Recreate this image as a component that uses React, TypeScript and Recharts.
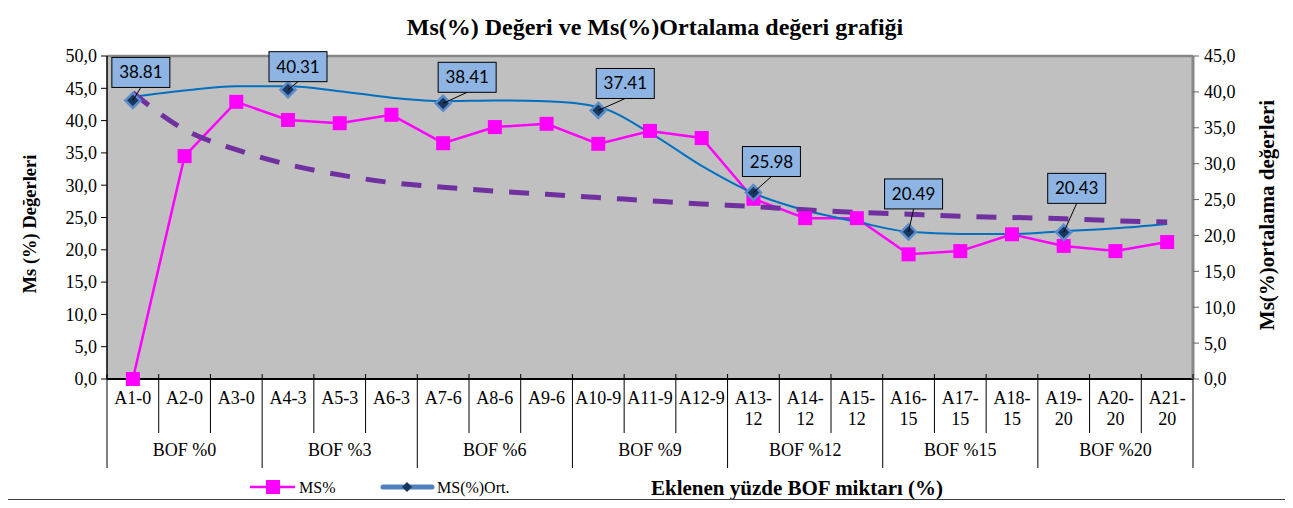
import React from 'react';
import {
  ComposedChart,
  Line,
  XAxis,
  YAxis,
  CartesianGrid,
  ReferenceLine,
  LabelList,
} from 'recharts';

const CATEGORIES = [
  'A1-0', 'A2-0', 'A3-0', 'A4-3', 'A5-3', 'A6-3', 'A7-6', 'A8-6', 'A9-6', 'A10-9', 'A11-9',
  'A12-9', 'A13-12', 'A14-12', 'A15-12', 'A16-15', 'A17-15', 'A18-15', 'A19-20', 'A20-20', 'A21-20',
];
const GROUPS = ['BOF %0', 'BOF %3', 'BOF %6', 'BOF %9', 'BOF %12', 'BOF %15', 'BOF %20'];

// MS% values (left axis)
const MS = [0, 34.5, 42.9, 40.1, 39.6, 40.9, 36.5, 39.0, 39.5, 36.4, 38.4, 37.3, 27.9, 24.9, 24.9, 19.3, 19.8, 22.4, 20.6, 19.8, 21.2];
// group averages (right axis), only on the first sample of each group
const MS_ORT = [38.81, null, null, 40.31, null, null, 38.41, null, null, 37.41, null, null, 25.98, null, null, 20.49, null, null, 20.43, null, null];
// smooth blue curve through the averages (right axis)
const ORT_CURVE = [39.3, 40.2, 40.8, 40.8, 40.1, 39.2, 38.7, 38.8, 38.7, 37.9, 34.3, 29.7, 25.9, 23.5, 21.9, 20.5, 20.2, 20.2, 20.6, 21.0, 21.6];
// purple dashed trend line (left axis)
const MS_TREND = [44.3, 38.6, 35.5, 33.2, 31.6, 30.4, 29.7, 29.1, 28.6, 28.1, 27.6, 27.1, 26.7, 26.2, 25.8, 25.5, 25.2, 25.0, 24.8, 24.5, 24.3];

const LEFT_TICKS = [0, 5, 10, 15, 20, 25, 30, 35, 40, 45, 50];
const RIGHT_TICKS = [0, 5, 10, 15, 20, 25, 30, 35, 40, 45];

// label box offsets from the diamond (box centre)
const LABEL_OFFSETS: Record<number, [number, number]> = {
  0: [8, -28], 3: [10, -23], 6: [24, -26], 9: [27, -27], 12: [18, -31], 15: [5, -38], 18: [13, -44],
};

const data = CATEGORIES.map((cat, i) => ({
  cat,
  ms: MS[i],
  ort: MS_ORT[i],
  curve: ORT_CURVE[i],
  trend: MS_TREND[i],
}));

const W = 1278;
const H = 491;
const PLOT_W = 1086;
const AXIS_Y = 371;
const BAND = PLOT_W / CATEGORIES.length;
const SERIF = '"Liberation Serif", "Times New Roman", serif';

const fmt = (v: number) => v.toFixed(1).replace('.', ',');

function CategoryTick(props: any) {
  const { x, index, payload } = props;
  const label = String(payload.value);
  const left = x - BAND / 2;
  const dash = label.indexOf('-');
  const lines = label.length > 5 ? [label.slice(0, dash + 1), label.slice(dash + 1)] : [label];
  const last = index === CATEGORIES.length - 1;
  return (
    <g>
      <line x1={left} x2={left} y1={AXIS_Y - 5} y2={index % 3 === 0 ? AXIS_Y + 89 : AXIS_Y + 54} stroke="#000" />
      {last && <line x1={left + BAND} x2={left + BAND} y1={AXIS_Y - 5} y2={AXIS_Y + 89} stroke="#000" />}
      {lines.map((t, k) => (
        <text key={k} x={x} y={AXIS_Y + 25 + k * 21} textAnchor="middle" fontSize={18} fontFamily={SERIF} fill="#000">
          {t}
        </text>
      ))}
      {index % 3 === 1 && (
        <text x={x} y={AXIS_Y + 77} textAnchor="middle" fontSize={18} fontFamily={SERIF} fill="#000">
          {GROUPS[(index - 1) / 3]}
        </text>
      )}
    </g>
  );
}

function SquareDot(props: any) {
  const { cx, cy } = props;
  if (cx == null || cy == null) return <g key={props.key} />;
  return <rect key={props.key} x={cx - 7} y={cy - 7} width={14} height={14} fill="#FF00FF" />;
}

function DiamondDot(props: any) {
  const { cx, cy, value } = props;
  if (value == null || cx == null || cy == null) return <g key={props.key} />;
  const r = 7.5;
  return (
    <path
      key={props.key}
      d={`M${cx},${cy - r} L${cx + r},${cy} L${cx},${cy + r} L${cx - r},${cy} Z`}
      fill="#17375E"
      stroke="#5B8BC9"
      strokeWidth={2.5}
    />
  );
}

function OrtLabel(props: any) {
  const { x, y, value, index } = props;
  if (value == null || x == null || y == null) return null;
  const [dx, dy] = LABEL_OFFSETS[index] || [10, -30];
  const bw = 58;
  const bh = 30;
  const bx = x + dx;
  const by = y + dy;
  return (
    <g>
      <line x1={x} y1={y} x2={bx} y2={by + bh / 2} stroke="#000" strokeWidth={1} />
      <rect x={bx - bw / 2} y={by - bh / 2} width={bw} height={bh} fill="#8DB4E2" stroke="#000" strokeWidth={1} />
      <text x={bx} y={by + 6} textAnchor="middle" fontSize={17} fontFamily="Lato, 'Open Sans', sans-serif" fill="#000">
        {Number(value).toFixed(2)}
      </text>
    </g>
  );
}

export default function App() {
  return (
    <div
      style={{
        position: 'relative',
        width: 1280,
        height: 493,
        marginLeft: -1,
        marginTop: -1,
        border: '1px solid #404040',
        boxSizing: 'border-box',
        background: '#fff',
      }}
    >
      <ComposedChart width={W} height={H} data={data} margin={{ top: 48, right: 0, bottom: 0, left: 0 }}>
        <CartesianGrid yAxisId="left" fill="#C0C0C0" horizontal={false} vertical={false} />
        <XAxis
          dataKey="cat"
          scale="band"
          interval={0}
          height={120}
          tickLine={false}
          axisLine={{ stroke: '#000', strokeWidth: 2 }}
          tick={<CategoryTick />}
        />
        <YAxis
          yAxisId="left"
          width={99}
          domain={[0, 50]}
          ticks={LEFT_TICKS}
          tickFormatter={fmt}
          tickSize={6}
          tickMargin={4}
          axisLine={{ stroke: '#000', strokeWidth: 1.5 }}
          tickLine={{ stroke: '#000' }}
          tick={{ fill: '#000', fontSize: 18, fontFamily: SERIF }}
        />
        <YAxis
          yAxisId="right"
          orientation="right"
          width={93}
          domain={[0, 45]}
          ticks={RIGHT_TICKS}
          tickFormatter={fmt}
          tickSize={6}
          tickMargin={5}
          axisLine={{ stroke: '#888', strokeWidth: 3 }}
          tickLine={{ stroke: '#666' }}
          tick={{ fill: '#000', fontSize: 18, fontFamily: SERIF, textAnchor: 'start' }}
        />
        <ReferenceLine yAxisId="left" y={50} stroke="#888" strokeWidth={2.5} />
        <Line
          yAxisId="left"
          dataKey="ms"
          type="linear"
          stroke="#FF00FF"
          strokeWidth={2.5}
          dot={SquareDot}
          isAnimationActive={false}
        />
        <Line
          yAxisId="right"
          dataKey="curve"
          type="monotone"
          stroke="#0070C0"
          strokeWidth={2}
          dot={false}
          isAnimationActive={false}
        />
        <Line
          yAxisId="right"
          dataKey="ort"
          stroke="none"
          connectNulls={false}
          dot={DiamondDot}
          isAnimationActive={false}
        />
        <Line
          yAxisId="left"
          dataKey="trend"
          type="monotone"
          stroke="#7030A0"
          strokeWidth={5}
          strokeDasharray="20 16"
          dot={false}
          isAnimationActive={false}
        />
        <Line
          yAxisId="right"
          dataKey="ort"
          stroke="none"
          dot={false}
          isAnimationActive={false}
        >
          <LabelList dataKey="ort" content={OrtLabel} />
        </Line>
      </ComposedChart>

      <svg
        width={W}
        height={H}
        style={{ position: 'absolute', left: 0, top: 0, pointerEvents: 'none' }}
      >
        <text x={647} y={27} textAnchor="middle" fontSize={24} fontWeight="bold" fontFamily={SERIF} fill="#000">
          Ms(%) Değeri ve Ms(%)Ortalama değeri grafiği
        </text>
        <text transform="translate(28,216) rotate(-90)" textAnchor="middle" fontSize={18.5} fontWeight="bold" fontFamily={SERIF} fill="#000">
          Ms (%) Değerleri
        </text>
        <text transform="translate(1266,207) rotate(-90)" textAnchor="middle" fontSize={21} fontWeight="bold" fontFamily={SERIF} fill="#000">
          Ms(%)ortalama değerleri
        </text>
        <text x={789} y={487} textAnchor="middle" fontSize={21} fontWeight="bold" fontFamily={SERIF} fill="#000">
          Eklenen yüzde BOF miktarı (%)
        </text>

        {/* legend */}
        <line x1={242} x2={287} y1={479} y2={479} stroke="#FF00FF" strokeWidth={2.5} />
        <rect x={258} y={472} width={14} height={14} fill="#FF00FF" />
        <text x={291} y={485} fontSize={16} fontFamily={SERIF} fill="#000">MS%</text>
        <line x1={375} x2={424} y1={479} y2={479} stroke="#4F81BD" strokeWidth={5} strokeLinecap="round" />
        <path d="M399,474 L404,479 L399,484 L394,479 Z" fill="#17375E" />
        <text x={429} y={485} fontSize={16} fontFamily={SERIF} fill="#000">MS(%)Ort.</text>
      </svg>
    </div>
  );
}
